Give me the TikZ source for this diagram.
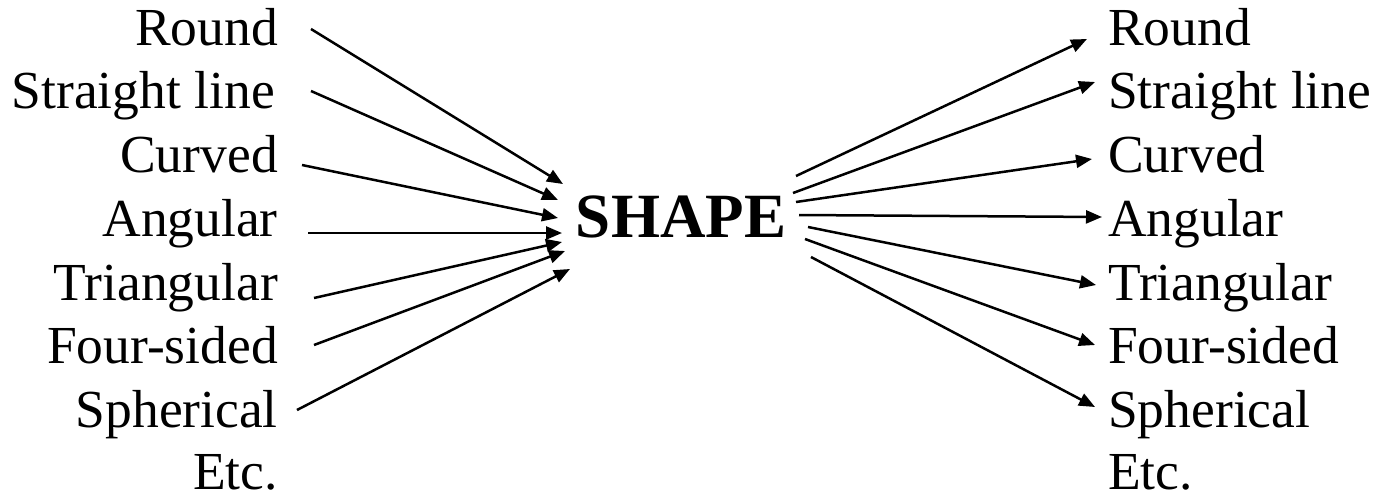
\documentclass[tikz,border=0pt]{standalone}
\usepackage{fontspec}
\setmainfont{Liberation Serif}
\usetikzlibrary{arrows.meta}
\begin{document}
\begin{tikzpicture}[x=1pt,y=-1pt,
  lbl/.style={inner sep=0pt,font=\fontsize{53.5}{60}\selectfont},
  lleft/.style={lbl,anchor=base east},
  lright/.style={lbl,anchor=base west},
  conn/.style={line width=2.5pt,-{Triangle[length=16pt,width=13pt]}}]
\useasboundingbox (0,0) rectangle (1377,496);
% left labels
\node[lleft] (L1) at (278,45) {Round};
\node[lleft] (L2) at (275,108.6) {Straight line};
\node[lleft] (L3) at (278,172) {Curved};
\node[lleft] (L4) at (278,236) {Angular};
\node[lleft] (L5) at (278,300) {Triangular};
\node[lleft] (L6) at (278,363) {Four-sided};
\node[lleft] (L7) at (278,427) {Spherical};
\node[lleft,text depth=0pt] (L8) at (278,489) {Etc.};
% right labels
\node[lright] (R1) at (1108,45) {Round};
\node[lright] (R2) at (1108,108.6) {Straight line};
\node[lright] (R3) at (1108,172) {Curved};
\node[lright] (R4) at (1108,236) {Angular};
\node[lright] (R5) at (1108,300) {Triangular};
\node[lright] (R6) at (1108,363) {Four-sided};
\node[lright] (R7) at (1108,427) {Spherical};
\node[lright,text depth=0pt] (R8) at (1108,489) {Etc.};
% centre
\node[inner sep=0pt,anchor=base,font=\fontsize{63}{70}\selectfont\bfseries] (S) at (681,237) {SHAPE};
% left arrow ends
\coordinate (a1) at (311,29);  \coordinate (b1) at (563,184);
\coordinate (a2) at (311,91);  \coordinate (b2) at (558,200);
\coordinate (a3) at (302,165); \coordinate (b3) at (558,218);
\coordinate (a4) at (308,233); \coordinate (b4) at (562,233);
\coordinate (a5) at (314,298); \coordinate (b5) at (562,242);
\coordinate (a6) at (314,345); \coordinate (b6) at (565,251);
\coordinate (a7) at (297,410); \coordinate (b7) at (570,269);
% right arrow ends
\coordinate (c1) at (796,176); \coordinate (d1) at (1087,39);
\coordinate (c2) at (793,193); \coordinate (d2) at (1095,82);
\coordinate (c3) at (796,202); \coordinate (d3) at (1092,159);
\coordinate (c4) at (799,215); \coordinate (d4) at (1102,217);
\coordinate (c5) at (808,227); \coordinate (d5) at (1096,285);
\coordinate (c6) at (805,239); \coordinate (d6) at (1095,345);
\coordinate (c7) at (811,257); \coordinate (d7) at (1095,407);
\foreach \i in {1,...,7} {
  \draw[conn] (a\i) -- (b\i);
  \draw[conn] (c\i) -- (d\i);
}
\end{tikzpicture}
\end{document}
